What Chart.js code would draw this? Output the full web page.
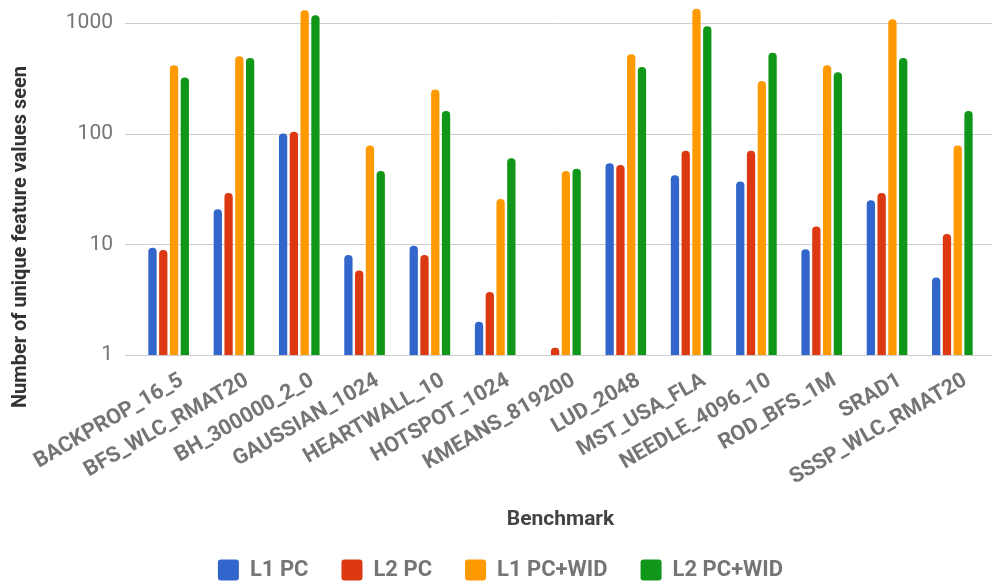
<!DOCTYPE html>
<html><head><meta charset="utf-8">
<script src="https://cdn.jsdelivr.net/npm/chart.js@4"></script>
<style>html,body{margin:0;padding:0;background:#fff}#wrap{width:992px;height:585px}</style>
</head><body><div id="wrap"><canvas id="c" width="992" height="585"></canvas></div>
<script>
const categories = ["BACKPROP_16_5","BFS_WLC_RMAT20","BH_300000_2_0","GAUSSIAN_1024","HEARTWALL_10","HOTSPOT_1024","KMEANS_819200","LUD_2048","MST_USA_FLA","NEEDLE_4096_10","ROD_BFS_1M","SRAD1","SSSP_WLC_RMAT20"];
const l1Pc    = [9.3, 20.7, 100, 8.0, 9.7, 2.0, null, 54, 42, 37, 9.0, 25, 5.0];
const l2Pc    = [8.9, 29, 104, 5.8, 8.0, 3.7, 1.16, 52, 70, 70, 14.5, 29, 12.4];
const l1PcWid = [414, 499, 1297, 78, 250, 25.7, 46, 520, 1343, 299, 414, 1076, 78];
const l2PcWid = [321, 482, 1169, 46, 160, 60, 48, 400, 930, 538, 358, 482, 160];
const yTicks  = [1, 10, 100, 1000];
const yTitle  = "Number of unique feature values seen";
const xTitle  = "Benchmark";

const seriesNames = ["L1 PC", "L2 PC", "L1 PC+WID", "L2 PC+WID"];
const seriesData = [l1Pc, l2Pc, l1PcWid, l2PcWid];
const colors = ["#3366cc", "#dc3912", "#ff9900", "#109618"];

const gridPlugin = {
  id: 'wideGrid',
  beforeDatasetsDraw(chart) {
    const y = chart.scales.y;
    const ctx = chart.ctx;
    ctx.save();
    ctx.strokeStyle = '#cccccc';
    ctx.lineWidth = 1;
    yTicks.forEach(v => {
      const py = Math.round(y.getPixelForValue(v)) + 0.5;
      ctx.beginPath();
      ctx.moveTo(125, py);
      ctx.lineTo(992, py);
      ctx.stroke();
    });
    ctx.restore();
  }
};

const yTitlePlugin = {
  id: 'yTitle',
  afterDraw(chart) {
    const ctx = chart.ctx;
    ctx.save();
    ctx.translate(21, 237);
    ctx.rotate(-Math.PI / 2);
    ctx.textAlign = 'center';
    ctx.textBaseline = 'middle';
    ctx.fillStyle = '#333333';
    ctx.font = 'bold 20px Roboto';
    ctx.fillText(yTitle, 0, 0);
    ctx.restore();
  }
};

new Chart(document.getElementById('c'), {
  type: 'bar',
  data: {
    labels: categories,
    datasets: seriesNames.map((n, i) => ({
      label: n,
      data: seriesData[i],
      backgroundColor: colors[i],
      borderWidth: 0,
      borderRadius: {topLeft: 4, topRight: 4, bottomLeft: 0, bottomRight: 0},
      borderSkipped: 'start',
      categoryPercentage: 0.66,
      barPercentage: 0.77
    }))
  },
  options: {
    responsive: false,
    animation: false,
    devicePixelRatio: 1,
    layout: {padding: {top: 5, right: 7, left: 16, bottom: -6}},
    plugins: {
      tooltip: {enabled: false},
      legend: {
        position: 'bottom',
        labels: {
          boxWidth: 21, boxHeight: 21, padding: 33,
          useBorderRadius: true, borderRadius: 3,
          color: '#757575',
          font: {family: 'Roboto', size: 22, weight: 'bold'}
        }
      }
    },
    scales: {
      x: {
        grid: {display: false, drawTicks: false},
        border: {display: false},
        ticks: {
          minRotation: 30, maxRotation: 30, autoSkip: false,
          labelOffset: 13, padding: 13,
          color: '#757575',
          font: {family: 'Roboto', size: 21.5, weight: 'bold'}
        },
        title: {
          display: true, text: xTitle, color: '#444444',
          font: {family: 'Roboto', size: 21, weight: 'bold'},
          padding: {top: 4, bottom: -6}
        },
        afterFit(scale) {
          scale.height = 171;
          scale.paddingLeft = 0; scale.paddingRight = 0;
          scale.paddingTop = 0; scale.paddingBottom = 0;
        }
      },
      y: {
        type: 'logarithmic',
        min: 1, max: 1450,
        grid: {display: false, drawTicks: false, tickLength: 0},
        border: {display: false},
        afterBuildTicks(scale) { scale.ticks = yTicks.map(v => ({value: v})); },
        ticks: {
          padding: 23,
          color: '#757575',
          font: {family: 'Roboto', size: 21},
          callback: v => String(v)
        },
        title: {display: false},
        afterFit(scale) {
          scale.width = 120;
          scale.paddingTop = 0; scale.paddingBottom = 0;
          scale.paddingLeft = 0; scale.paddingRight = 0;
        }
      }
    }
  },
  plugins: [gridPlugin, yTitlePlugin]
});
</script>
</body></html>
